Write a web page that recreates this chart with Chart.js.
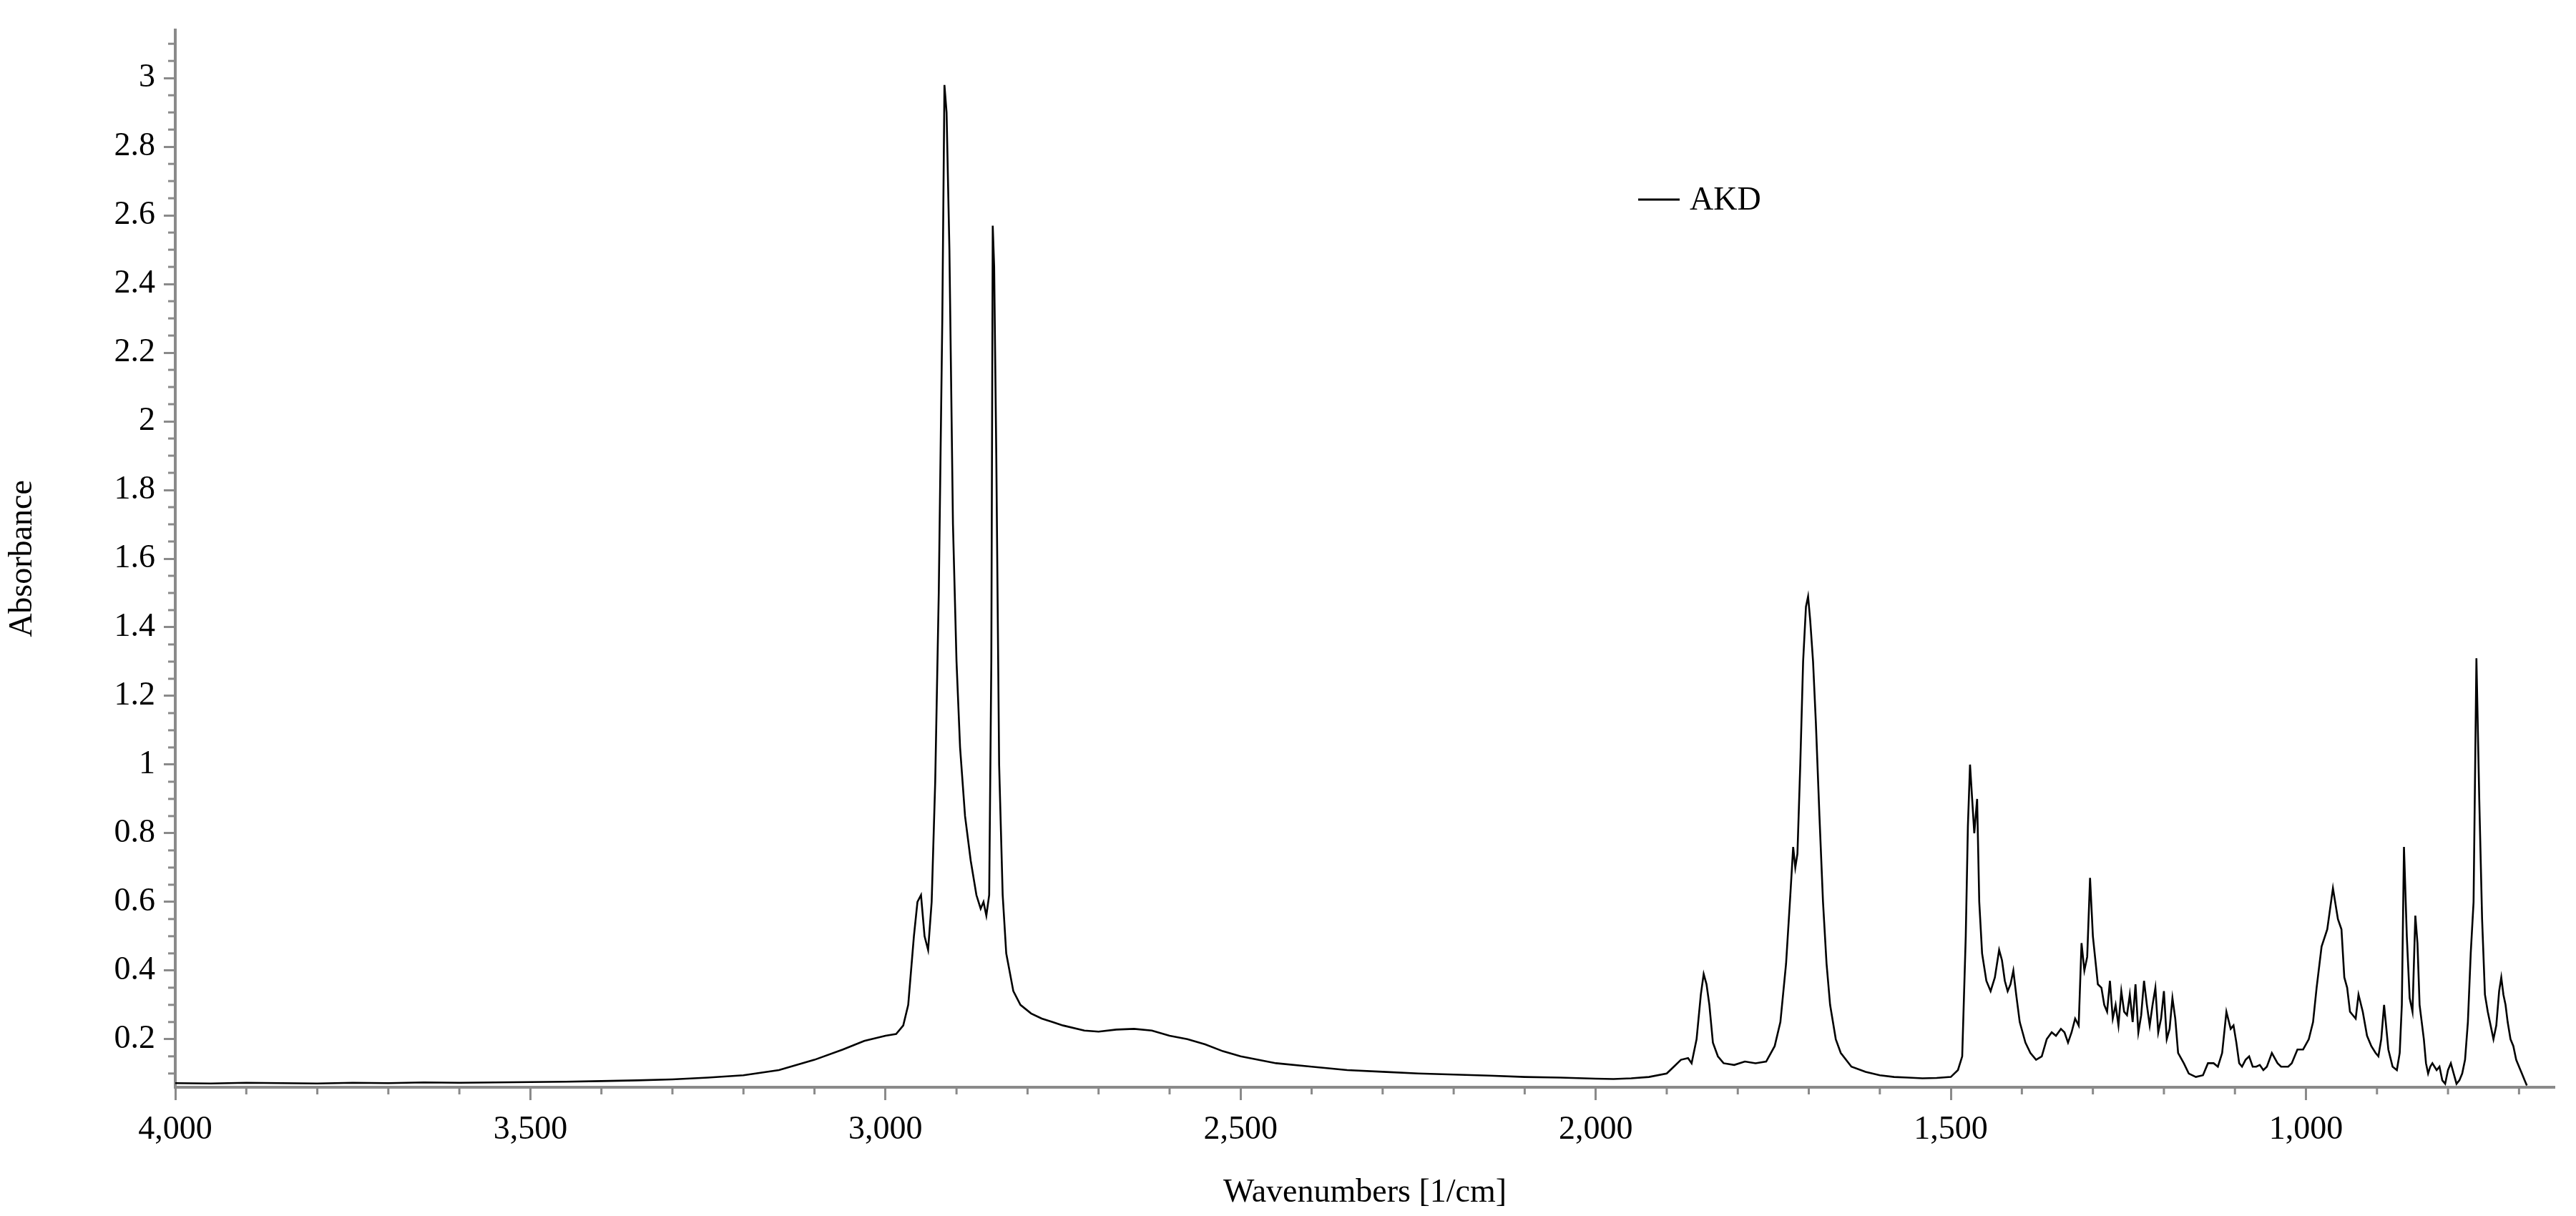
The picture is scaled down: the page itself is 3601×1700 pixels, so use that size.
<!DOCTYPE html>
<html><head><meta charset="utf-8">
<script src="https://cdn.jsdelivr.net/npm/chart.js@4"></script>
<style>html,body{margin:0;padding:0;background:#fff}</style>
</head><body>
<canvas id="c" width="3601" height="1700"></canvas>
<script>
const seriesName = "AKD";
const wavenumbers = [4000,3950,3900,3850,3800,3750,3700,3650,3600,3550,3500,3450,3400,3350,3300,3250,3200,3150,3100,3060,3030,3000,2985,2975,2968,2960,2955,2950,2945,2940,2935,2930,2925,2920,2917,2914,2910,2905,2900,2895,2888,2880,2872,2866,2862,2858,2854,2851,2849,2847,2844,2840,2835,2830,2820,2810,2795,2780,2765,2750,2720,2700,2675,2650,2625,2600,2575,2550,2525,2500,2450,2400,2350,2300,2250,2200,2150,2100,2050,2000,1975,1950,1925,1900,1890,1880,1870,1865,1858,1852,1848,1844,1840,1835,1828,1820,1805,1790,1775,1760,1748,1740,1732,1726,1722,1719,1716,1712,1708,1704,1701,1698,1694,1690,1685,1680,1675,1670,1662,1655,1640,1620,1600,1580,1560,1540,1520,1500,1490,1484,1479,1476,1473,1470,1467,1463,1460,1456,1450,1444,1438,1432,1428,1424,1420,1416,1412,1408,1403,1395,1388,1380,1372,1365,1358,1352,1345,1340,1335,1330,1325,1320,1316,1312,1308,1304,1300,1297,1293,1288,1284,1280,1276,1272,1268,1264,1260,1256,1252,1248,1244,1240,1236,1232,1228,1224,1220,1216,1212,1208,1204,1200,1196,1192,1188,1184,1180,1172,1165,1155,1145,1138,1130,1124,1118,1112,1106,1102,1098,1094,1090,1085,1080,1075,1070,1065,1060,1055,1048,1040,1035,1030,1025,1020,1012,1004,996,990,985,978,970,962,955,950,946,942,938,934,930,926,920,914,908,902,898,894,890,884,878,872,868,865,862,858,854,850,846,843,840,837,834,831,828,825,822,819,816,812,808,804,800,796,792,788,784,780,776,772,768,764,760,756,752,748,744,740,736,732,728,725,722,719,716,712,708,704,700,696,692,689,686,683,680,676,672,668,664,660,656,652];
const absorbance = [0.072,0.071,0.073,0.072,0.071,0.073,0.072,0.074,0.073,0.074,0.075,0.076,0.078,0.08,0.083,0.088,0.095,0.11,0.14,0.17,0.195,0.21,0.215,0.24,0.3,0.5,0.6,0.62,0.5,0.46,0.6,0.95,1.5,2.3,2.98,2.9,2.5,1.7,1.3,1.05,0.85,0.72,0.62,0.58,0.6,0.56,0.62,1.3,2.57,2.45,1.9,1.0,0.62,0.45,0.34,0.3,0.275,0.26,0.25,0.24,0.225,0.222,0.228,0.23,0.225,0.21,0.2,0.185,0.165,0.15,0.13,0.12,0.11,0.105,0.1,0.097,0.094,0.09,0.088,0.085,0.084,0.086,0.09,0.1,0.12,0.14,0.145,0.13,0.2,0.33,0.39,0.36,0.3,0.19,0.15,0.13,0.125,0.135,0.13,0.135,0.18,0.25,0.42,0.62,0.76,0.7,0.74,1.0,1.3,1.46,1.49,1.42,1.3,1.12,0.85,0.6,0.42,0.3,0.2,0.16,0.12,0.105,0.095,0.09,0.088,0.086,0.087,0.09,0.11,0.15,0.5,0.82,1.0,0.9,0.8,0.9,0.6,0.45,0.37,0.34,0.38,0.46,0.43,0.37,0.34,0.36,0.4,0.33,0.25,0.19,0.16,0.14,0.15,0.2,0.22,0.21,0.23,0.22,0.19,0.22,0.26,0.24,0.48,0.4,0.44,0.67,0.5,0.44,0.36,0.35,0.3,0.28,0.37,0.26,0.3,0.24,0.34,0.28,0.27,0.33,0.25,0.36,0.22,0.27,0.37,0.3,0.24,0.3,0.35,0.22,0.26,0.34,0.2,0.23,0.32,0.26,0.16,0.13,0.1,0.09,0.095,0.13,0.13,0.12,0.16,0.28,0.23,0.24,0.19,0.13,0.12,0.14,0.15,0.12,0.12,0.125,0.11,0.12,0.16,0.13,0.12,0.12,0.12,0.13,0.17,0.17,0.2,0.25,0.35,0.47,0.52,0.64,0.55,0.52,0.38,0.35,0.28,0.27,0.26,0.33,0.28,0.21,0.18,0.16,0.15,0.2,0.3,0.17,0.12,0.11,0.16,0.3,0.76,0.5,0.32,0.28,0.56,0.48,0.3,0.25,0.2,0.13,0.1,0.12,0.13,0.12,0.11,0.12,0.08,0.07,0.11,0.13,0.1,0.07,0.08,0.1,0.14,0.25,0.45,0.6,1.31,0.9,0.55,0.33,0.28,0.24,0.2,0.24,0.34,0.38,0.33,0.3,0.25,0.2,0.18,0.14,0.12,0.1,0.08,0.065];
const xTicks = [1000,1500,2000,2500,3000,3500,4000];
const yTicks = [0.2,0.4,0.6,0.8,1,1.2,1.4,1.6,1.8,2,2.2,2.4,2.6,2.8,3];

const FONT = "'Liberation Serif', 'Times New Roman', serif";
const AXC = '#8a8a8a';

const minorTicks = {
  id:'minorTicks',
  afterDraw(chart){
    const ctx = chart.ctx, xs = chart.scales.x, ys = chart.scales.y;
    ctx.save(); ctx.strokeStyle = AXC; ctx.lineWidth = 3;
    for(let v=700; v<=4000; v+=100){
      if(v%500===0) continue;
      const px = xs.getPixelForValue(v);
      ctx.beginPath(); ctx.moveTo(px, xs.top); ctx.lineTo(px, xs.top+10); ctx.stroke();
    }
    for(let i=2;i<=62;i++){
      const v = i*0.05; if(i%4===0) continue;
      if(v>ys.max) break;
      const py = ys.getPixelForValue(v);
      ctx.beginPath(); ctx.moveTo(ys.right, py); ctx.lineTo(ys.right-10, py); ctx.stroke();
    }
    // legend
    ctx.strokeStyle='#000'; ctx.lineWidth=3;
    ctx.beginPath(); ctx.moveTo(2290,279); ctx.lineTo(2348,279); ctx.stroke();
    ctx.fillStyle='#000'; ctx.font = "46px "+FONT; ctx.textBaseline='middle'; ctx.textAlign='left';
    ctx.fillText(seriesName, 2362, 281);
    ctx.restore();
  }
};

new Chart(document.getElementById('c'), {
  type:'line',
  data:{ datasets:[{ label:seriesName, data: wavenumbers.map((w,i)=>({x:w,y:absorbance[i]})),
    borderColor:'#000', borderWidth:2.6, pointRadius:0, tension:0, fill:false }]},
  options:{
    responsive:false, animation:false, devicePixelRatio:1,
    layout:{ padding:{ top:42, right:30, left:0, bottom:0 } },
    plugins:{ legend:{display:false}, tooltip:{enabled:false} },
    scales:{
      x:{ type:'linear', reverse:true, min:650, max:4000,
        afterBuildTicks: s => { s.ticks = xTicks.map(v=>({value:v})); },
        afterFit: s => { s.height = 180; },
        border:{ color:AXC, width:4 },
        grid:{ drawOnChartArea:false, tickLength:18, tickColor:AXC, tickWidth:3 },
        ticks:{ color:'#000', font:{family:FONT, size:46}, padding:14, maxRotation:0, autoSkip:false },
        title:{ display:true, text:'Wavenumbers [1/cm]', color:'#000', font:{family:FONT, size:46}, padding:{top:4} }
      },
      y:{ type:'linear', min:0.06, max:3.14,
        afterBuildTicks: s => { s.ticks = yTicks.map(v=>({value:v})); },
        afterFit: s => { s.width = 245; },
        border:{ color:AXC, width:4 },
        grid:{ drawOnChartArea:false, tickLength:16, tickColor:AXC, tickWidth:3 },
        ticks:{ color:'#000', font:{family:FONT, size:46}, padding:12, autoSkip:false,
          callback: v => String(Number(v.toFixed(1))) },
        title:{ display:true, text:'Absorbance', color:'#000', font:{family:FONT, size:46}, padding:{bottom:20} }
      }
    }
  },
  plugins:[minorTicks]
});
</script>
</body></html>
